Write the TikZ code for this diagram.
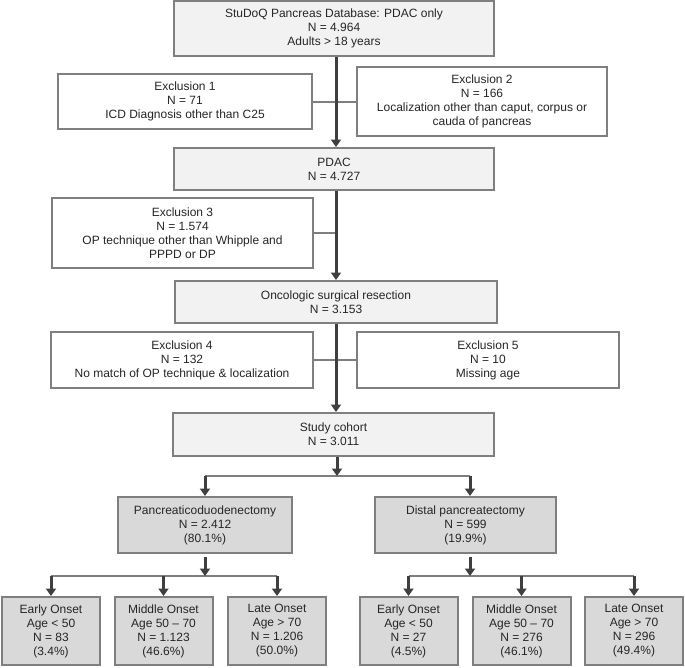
\documentclass[tikz,border=0pt]{standalone}
\usepackage{fontspec}
\setmainfont{Liberation Sans}
\usetikzlibrary{arrows.meta}
\definecolor{bordergray}{HTML}{7F7F7F}
\definecolor{lightfill}{HTML}{F2F2F2}
\definecolor{darkfill}{HTML}{D9D9D9}
\definecolor{arrowdark}{HTML}{3F3F3F}
\definecolor{textcol}{HTML}{262626}
\begin{document}
\begin{tikzpicture}[x=1pt,y=-1pt,
  box/.style={draw=bordergray, line width=2pt, align=center, inner sep=0pt,
    font=\fontsize{12}{14}\selectfont, text=textcol},
  mainbox/.style={box, fill=lightfill},
  exbox/.style={box, fill=white},
  subbox/.style={box, fill=darkfill, minimum width=98pt, minimum height=68pt},
  grpbox/.style={box, fill=darkfill},
  mainarrow/.style={draw=arrowdark, line width=3pt, -{Triangle[width=10pt,length=7.5pt]}},
  sideline/.style={draw=bordergray, line width=2pt}
]
\useasboundingbox (0,0) rectangle (685,667);

\node[mainbox, minimum width=320pt, minimum height=55pt] (top) at (334,28.5)
  {StuDoQ Pancreas Database: PDAC only\\N = 4.964\\Adults > 18 years};
\node[exbox, minimum width=254pt, minimum height=55pt] (ex1) at (185,101.5)
  {Exclusion 1\\N = 71\\ICD Diagnosis other than C25};
\node[exbox, minimum width=250pt, minimum height=69pt] (ex2) at (482,101.5)
  {Exclusion 2\\N = 166\\Localization other than caput, corpus or\\cauda of pancreas};
\node[mainbox, minimum width=320pt, minimum height=42pt] (pdac) at (334,169)
  {PDAC\\N = 4.727};
\node[exbox, minimum width=261pt, minimum height=70pt] (ex3) at (182.5,233)
  {Exclusion 3\\N = 1.574\\OP technique other than Whipple and\\PPPD or DP};
\node[mainbox, minimum width=322pt, minimum height=42pt] (onc) at (336,302)
  {Oncologic surgical resection\\N = 3.153};
\node[exbox, minimum width=262pt, minimum height=56pt] (ex4) at (182,360)
  {Exclusion 4\\N = 132\\No match of OP technique \& localization};
\node[exbox, minimum width=262pt, minimum height=56pt] (ex5) at (488,360)
  {Exclusion 5\\N = 10\\Missing age};
\node[mainbox, minimum width=321pt, minimum height=43pt] (coh) at (333.5,434.5)
  {Study cohort\\N = 3.011};
\node[grpbox, minimum width=174pt, minimum height=56pt] (pd) at (205,525)
  {Pancreaticoduodenectomy\\N = 2.412\\(80.1\%)};
\node[grpbox, minimum width=181pt, minimum height=56pt] (dp) at (465.5,525)
  {Distal pancreatectomy\\N = 599\\(19.9\%)};

\node[subbox] (pd1) at (51,631) {Early Onset\\Age < 50\\N = 83\\(3.4\%)};
\node[subbox] (pd2) at (163.5,631) {Middle Onset\\Age 50 -- 70\\N = 1.123\\(46.6\%)};
\node[subbox] (pd3) at (277,631) {Late Onset\\Age > 70\\N = 1.206\\(50.0\%)};
\node[subbox] (dp1) at (408.5,631) {Early Onset\\Age < 50\\N = 27\\(4.5\%)};
\node[subbox] (dp2) at (521.5,631) {Middle Onset\\Age 50 -- 70\\N = 276\\(46.1\%)};
\node[subbox] (dp3) at (634,631) {Late Onset\\Age > 70\\N = 296\\(49.4\%)};

\coordinate (mx) at (336,0);
\coordinate (split) at (337,476);
\coordinate (dpx) at (470,525);
\coordinate (ps) at (205,576);
\coordinate (ds) at (470,576);

% side connectors
\draw[sideline] (ex1.east) -- (ex2.west);
\draw[sideline] (ex3.east) -- (ex3.east -| mx);
\draw[sideline] (ex4.east) -- (ex5.west);

% main flow
\draw[mainarrow] (top.south -| mx) -- (pdac.north -| mx);
\draw[mainarrow] (pdac.south -| mx) -- (onc.north -| mx);
\draw[mainarrow] (onc.south -| mx) -- (coh.north -| mx);

% split to groups
\draw[sideline] (pd.north |- split) -- (dpx |- split);
\draw[mainarrow] (coh.south -| split) -- (split);
\draw[mainarrow] (pd.north |- split) -- (pd.north);
\draw[mainarrow] (dpx |- split) -- (dpx |- dp.north);

% split to age groups
\draw[sideline] (pd1.north |- ps) -- (pd3.north |- ps);
\draw[sideline] (dp1.north |- ds) -- (dp3.north |- ds);
\draw[mainarrow, shorten <=3pt] (pd.south) -- (ps);
\draw[mainarrow, shorten <=3pt] (dpx |- dp.south) -- (ds);
\foreach \n in {pd1,pd2,pd3}{\draw[mainarrow] (\n.north |- ps) -- (\n.north);}
\foreach \n in {dp1,dp2,dp3}{\draw[mainarrow] (\n.north |- ds) -- (\n.north);}
\end{tikzpicture}
\end{document}
